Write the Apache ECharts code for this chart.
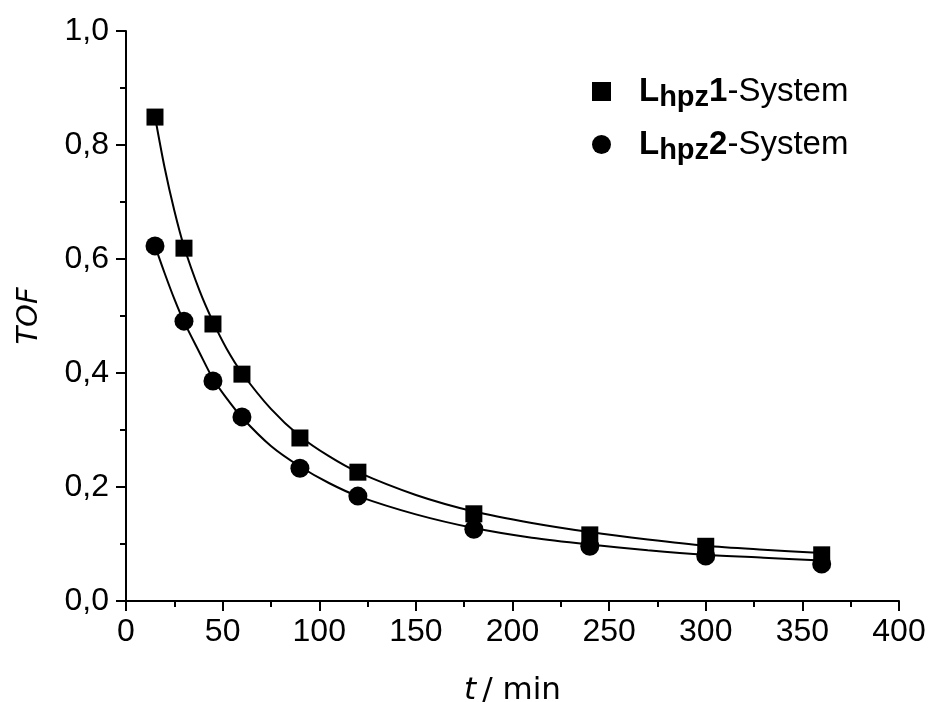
<!DOCTYPE html>
<html>
<head>
<meta charset="utf-8">
<script src="https://cdn.jsdelivr.net/npm/echarts@6/dist/echarts.min.js"></script>
<style>
html, body { margin: 0; padding: 0; background: #fff; }
#main { width: 930px; height: 702px; }
</style>
</head>
<body>
<div id="main"></div>
<script>
// Messpunkte
var times = [15, 30, 45, 60, 90, 120, 180, 240, 300, 360];
var tofL1 = [0.849, 0.619, 0.486, 0.398, 0.286, 0.226, 0.153, 0.116, 0.096, 0.081];
var tofL2 = [0.623, 0.491, 0.386, 0.323, 0.233, 0.184, 0.126, 0.096, 0.079, 0.065];
// Fitkurven
var fitTimes = [15, 20, 25, 30, 38, 45, 52, 60, 75, 90, 105, 120, 150, 180, 210, 240, 270, 300, 330, 360];
var fitL1 = [0.850, 0.760, 0.685, 0.622, 0.545, 0.490, 0.443, 0.400, 0.337, 0.289, 0.254, 0.226, 0.186, 0.157, 0.137, 0.121, 0.108, 0.097, 0.090, 0.084];
var fitL2 = [0.623, 0.575, 0.530, 0.490, 0.436, 0.390, 0.356, 0.322, 0.272, 0.236, 0.207, 0.184, 0.152, 0.128, 0.111, 0.099, 0.089, 0.081, 0.076, 0.071];
var legendNames = ['L1', 'L2'];

function pairs(xs, ys) {
    return xs.map(function (x, i) { return [x, ys[i]]; });
}

var myChart = echarts.init(document.getElementById('main'));

var axisFont = 'Liberation Sans';

option = {
    animation: false,
    grid: { left: 126, right: 31, top: 31, bottom: 101, outerBoundsMode: 'none' },
    legend: {
        orient: 'vertical',
        left: 587,
        top: 70,
        itemWidth: 19,
        itemHeight: 19,
        itemGap: 16,
        data: [
            { name: legendNames[0], icon: 'rect', itemStyle: { color: '#000', opacity: 1 } },
            { name: legendNames[1], icon: 'circle', itemStyle: { color: '#000', opacity: 1 } }
        ],
        formatter: function (name) {
            var n = name === 'L1' ? '1' : '2';
            return '{b|L}{s|hpz}{b|' + n + '}{n|-System}';
        },
        textStyle: {
            color: '#000',
            padding: [0, 0, 0, 23],
            rich: {
                b: { fontFamily: axisFont, fontSize: 33, fontWeight: 'bold', color: '#000' },
                s: { fontFamily: axisFont, fontSize: 29, fontWeight: 'bold', color: '#000', padding: [12, 0, 0, 0] },
                n: { fontFamily: axisFont, fontSize: 33, color: '#000' }
            }
        }
    },
    xAxis: {
        type: 'value',
        min: 0,
        max: 400,
        interval: 50,
        name: '{i|t}{n|/ min}',
        nameLocation: 'middle',
        nameGap: 74,
        nameTextStyle: {
            rich: {
                i: { fontFamily: 'DejaVu Sans', fontSize: 31, fontStyle: 'italic', color: '#000', padding: [0, 6, 0, 0] },
                n: { fontFamily: 'DejaVu Sans', fontSize: 31, color: '#000' }
            }
        },
        axisLine: { onZero: false, lineStyle: { color: '#000', width: 2 } },
        axisTick: { inside: false, length: 10, lineStyle: { color: '#000', width: 2 } },
        minorTick: { show: true, splitNumber: 2, length: 6, lineStyle: { color: '#000', width: 2 } },
        axisLabel: { margin: 15, fontFamily: axisFont, fontSize: 32, color: '#000' },
        splitLine: { show: false }
    },
    yAxis: {
        type: 'value',
        min: 0,
        max: 1,
        interval: 0.2,
        name: 'TOF',
        nameLocation: 'middle',
        nameGap: 82,
        nameRotate: 90,
        nameTextStyle: { fontFamily: 'DejaVu Sans', fontSize: 29, fontStyle: 'italic', color: '#000' },
        axisLine: { onZero: false, lineStyle: { color: '#000', width: 2 } },
        axisTick: { inside: false, length: 10, lineStyle: { color: '#000', width: 2 } },
        minorTick: { show: true, splitNumber: 2, length: 6, lineStyle: { color: '#000', width: 2 } },
        axisLabel: {
            margin: 17,
            fontFamily: axisFont,
            fontSize: 32,
            color: '#000',
            formatter: function (v) { return v.toFixed(1).replace('.', ','); }
        },
        splitLine: { show: false }
    },
    series: [
        {
            name: 'fit1',
            type: 'line',
            data: pairs(fitTimes, fitL1),
            smooth: 0.3,
            showSymbol: false,
            lineStyle: { color: '#000', width: 2 },
            z: 2
        },
        {
            name: 'fit2',
            type: 'line',
            data: pairs(fitTimes, fitL2),
            smooth: 0.3,
            showSymbol: false,
            lineStyle: { color: '#000', width: 2 },
            z: 2
        },
        {
            name: legendNames[0],
            type: 'scatter',
            data: pairs(times, tofL1),
            symbol: 'rect',
            symbolSize: 17,
            itemStyle: { color: '#000', opacity: 1 },
            z: 3
        },
        {
            name: legendNames[1],
            type: 'scatter',
            data: pairs(times, tofL2),
            symbol: 'circle',
            symbolSize: 19,
            itemStyle: { color: '#000', opacity: 1 },
            z: 3
        }
    ]
};

myChart.setOption(option);
</script>
</body>
</html>
